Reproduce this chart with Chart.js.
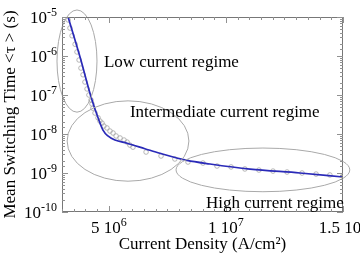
<!DOCTYPE html>
<html>
<head>
<meta charset="utf-8">
<script src="https://cdn.jsdelivr.net/npm/chart.js@4.4.1/dist/chart.umd.min.js"></script>
<style>
  html, body { margin: 0; padding: 0; background: #fff; overflow: hidden; }
  canvas { display: block; }
</style>
</head>
<body>
<canvas id="switchChart" width="360" height="255"></canvas>
<script>
/* ================= DATA ================= */
// simulated points (open circles)
const simCurrent = [
  3.26e6, 3.34e6, 3.43e6, 3.56e6, 3.64e6, 3.73e6, 3.81e6, 3.90e6, 3.98e6, 4.07e6,
  4.15e6, 4.24e6, 4.28e6, 4.32e6, 4.41e6, 4.54e6, 4.62e6, 4.71e6, 4.79e6, 4.92e6,
  5.05e6, 5.18e6, 5.31e6, 5.48e6, 5.65e6, 5.78e6, 5.90e6, 6.03e6,
  6.59e6, 7.23e6, 7.82e6, 8.38e6, 9.02e6, 9.62e6, 10.22e6, 10.81e6, 11.41e6,
  12.01e6, 12.61e6, 13.25e6, 13.85e6, 14.44e6, 15.0e6
];
const simTau = [
  8.4e-6, 5.2e-6, 3.3e-6, 2.0e-6, 1.27e-6, 7.9e-7, 4.9e-7, 3.3e-7, 2.15e-7, 1.43e-7,
  1.0e-7, 7.4e-8, 5.9e-8, 4.6e-8, 3.45e-8, 2.6e-8, 2.15e-8, 1.9e-8, 1.6e-8, 1.43e-8,
  1.19e-8, 1.06e-8, 8.9e-9, 7.9e-9, 7.0e-9, 6.2e-9, 5.2e-9, 4.6e-9,
  3.45e-9, 2.73e-9, 2.29e-9, 1.91e-9, 1.80e-9, 1.51e-9, 1.43e-9, 1.27e-9, 1.19e-9,
  1.12e-9, 1.06e-9, 1.0e-9, 9.4e-10, 8.9e-10, 8.4e-10
];

// model curve (blue line)
const fitCurrent = [
  3.26e6, 3.77e6, 4.28e6, 4.54e6, 4.75e6, 4.96e6, 5.26e6, 5.78e6, 6.54e6,
  7.18e6, 8.34e6, 9.32e6, 11.03e6, 13.16e6, 15.0e6
];
const fitTau = [
  1.0e-5, 9.4e-7, 7.4e-8, 2.6e-8, 1.26e-8, 8.9e-9, 7.0e-9, 5.8e-9, 4.2e-9,
  3.2e-9, 2.1e-9, 1.7e-9, 1.26e-9, 1.0e-9, 7.9e-10
];

// tick labels: [mantissa text, exponent]
const xTickValues = [5e6, 1e7, 1.5e7];
const xTickLabels = [["5 10", "6"], ["1 10", "7"], ["1.5 10", "7"]];
const yTickValues = [1e-5, 1e-6, 1e-7, 1e-8, 1e-9, 1e-10];
const yTickLabels = [["10", "-5"], ["10", "-6"], ["10", "-7"], ["10", "-8"], ["10", "-9"], ["10", "-10"]];

const regionNames = ["Low current regime", "Intermediate current regime", "High current regime"];

/* ================= ANNOTATION PLACEMENT (data coords) ================= */
const regionShapes = [
  { cx: 3.64e6, rx: 0.854e6, cyLog: -6.13, ryDec: 1.31 },
  { cx: 5.82e6, rx: 2.6e6, cyLog: -8.18, ryDec: 1.03 },
  { cx: 11.58e6, rx: 3.71e6, cyLog: -8.92, ryDec: 0.56 },
];
const regionText = [
  { x: 4.79e6, yLog: -6.28 },
  { x: 5.90e6, yLog: -7.564 },
  { x: 9.15e6, yLog: -9.897 },
];

const serif = "'Liberation Serif', 'Times New Roman', serif";

// text with a raised exponent
function supText(ctx, base, exp, x, y, align) {
  ctx.font = "17px " + serif;
  const wb = ctx.measureText(base).width;
  ctx.font = "12px " + serif;
  const we = ctx.measureText(exp).width;
  let x0 = x;
  if (align === "center") x0 = x - (wb + we) / 2;
  if (align === "right") x0 = x - wb - we;
  ctx.textAlign = "left";
  ctx.textBaseline = "alphabetic";
  ctx.font = "17px " + serif;
  ctx.fillText(base, x0, y);
  ctx.font = "12px " + serif;
  ctx.fillText(exp, x0 + wb, y - 7);
}

/* ================= FRAME, INNER TICKS, LABELS ================= */
const decorations = {
  id: "decorations",
  afterDraw(chart) {
    const { ctx, chartArea: a } = chart;
    const x = chart.scales.x;
    const y = chart.scales.y;
    ctx.save();

    // regime ellipses
    ctx.strokeStyle = "#a9a9a9";
    ctx.lineWidth = 1;
    regionShapes.forEach((r) => {
      const cx = x.getPixelForValue(r.cx);
      const rx = x.getPixelForValue(r.cx + r.rx) - cx;
      const cy = y.getPixelForValue(Math.pow(10, r.cyLog));
      const ry = y.getPixelForValue(Math.pow(10, r.cyLog - r.ryDec)) - cy;
      ctx.beginPath();
      ctx.ellipse(cx, cy, rx, ry, 0, 0, Math.PI * 2);
      ctx.stroke();
    });

    // frame
    ctx.strokeStyle = "#777";
    ctx.strokeRect(a.left + 0.5, a.top + 0.5, a.right - a.left - 1, a.bottom - a.top - 1);

    // inward ticks on all four sides
    ctx.strokeStyle = "#919191";
    ctx.beginPath();
    x.ticks.forEach((t) => {
      const px = Math.round(x.getPixelForValue(t.value)) + 0.5;
      const len = xTickValues.some((v) => Math.abs(v - t.value) < 1) ? 6 : 3;
      ctx.moveTo(px, a.bottom); ctx.lineTo(px, a.bottom - len);
      ctx.moveTo(px, a.top); ctx.lineTo(px, a.top + len);
    });
    y.ticks.forEach((t) => {
      const py = Math.round(y.getPixelForValue(t.value)) + 0.5;
      const lg = Math.log10(t.value);
      const len = Math.abs(lg - Math.round(lg)) < 1e-6 ? 6 : 3;
      ctx.moveTo(a.left, py); ctx.lineTo(a.left + len, py);
      ctx.moveTo(a.right, py); ctx.lineTo(a.right - len, py);
    });
    ctx.stroke();

    // tick labels
    ctx.fillStyle = "#000";
    xTickValues.forEach((v, i) => {
      supText(ctx, xTickLabels[i][0], xTickLabels[i][1], x.getPixelForValue(v), a.bottom + 21, "center");
    });
    yTickValues.forEach((v, i) => {
      supText(ctx, yTickLabels[i][0], yTickLabels[i][1], a.left - 5, y.getPixelForValue(v) + 6, "right");
    });

    // regime names
    ctx.font = "17px " + serif;
    ctx.textAlign = "left";
    ctx.textBaseline = "alphabetic";
    regionText.forEach((r, i) => {
      ctx.fillText(regionNames[i], x.getPixelForValue(r.x), y.getPixelForValue(Math.pow(10, r.yLog)));
    });

    ctx.restore();
  },
};

/* ================= CHART ================= */
new Chart(document.getElementById("switchChart"), {
  type: "scatter",
  data: {
    datasets: [
      {
        label: "Model",
        data: fitCurrent.map((c, i) => ({ x: c, y: fitTau[i] })),
        showLine: true,
        borderColor: "#2a2ab8",
        borderWidth: 1.7,
        pointRadius: 0,
        cubicInterpolationMode: "monotone",
      },
      {
        label: "Simulation",
        data: simCurrent.map((c, i) => ({ x: c, y: simTau[i] })),
        showLine: false,
        pointStyle: "circle",
        pointRadius: 2.3,
        borderWidth: 0.8,
        borderColor: "#a4a4a4",
        backgroundColor: "rgba(0,0,0,0)",
      },
    ],
  },
  options: {
    responsive: false,
    animation: false,
    layout: { padding: { top: 17, right: 17, bottom: 0, left: 0 } },
    plugins: { legend: { display: false }, tooltip: { enabled: false } },
    scales: {
      x: {
        type: "linear",
        min: 3e6,
        max: 1.5e7,
        ticks: { display: false, stepSize: 5e5 },
        grid: { display: false },
        border: { display: false },
        title: {
          display: true,
          text: "Current Density (A/cm²)",
          color: "#000",
          font: { family: serif, size: 17 },
          padding: 0,
        },
        afterFit: (s) => { s.height = 43; },
      },
      y: {
        type: "logarithmic",
        min: 1e-10,
        max: 1e-5,
        ticks: { display: false },
        grid: { display: false },
        border: { display: false },
        title: {
          display: true,
          text: "Mean Switching Time <τ > (s)",
          color: "#000",
          font: { family: serif, size: 17 },
          padding: 0,
        },
        afterFit: (s) => { s.width = 62; },
      },
    },
  },
  plugins: [decorations],
});
</script>
</body>
</html>
